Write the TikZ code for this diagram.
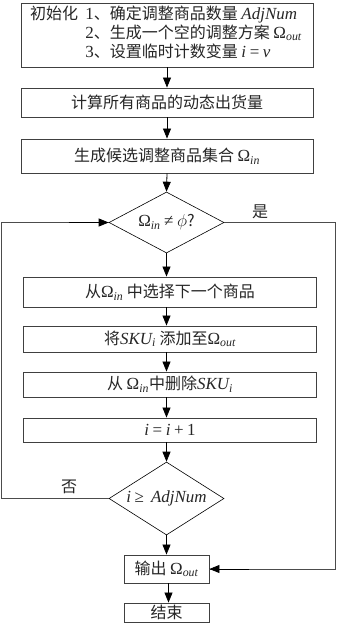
\documentclass[tikz,border=0pt]{standalone}
\usepackage{fontspec}
\setmainfont{Liberation Serif}
\newfontfamily\cjk{Noto Sans CJK SC}
\newfontfamily\lat[Scale=1.06]{Liberation Serif}
\usetikzlibrary{shapes.geometric,arrows.meta}
\newcommand\Om[1]{{\lat Ω\textsubscript{\itshape #1}}}
\newcommand\va[1]{{\lat\itshape #1}}
\begin{document}
\begin{tikzpicture}[x=1pt,y=-1pt,
  every node/.style={font=\cjk\fontsize{16}{19}\selectfont, text=black!85},
  box/.style={draw=black!75, line width=0.9pt, rectangle, inner sep=0pt, fill=white},
  dec/.style={draw=black, line width=0.6pt, diamond, inner sep=0pt, fill=white},
  arr/.style={-{Triangle[length=10pt,width=8pt]}, line width=0.8pt, draw=black},
  lin/.style={line width=0.9pt, draw=black!70}]
\useasboundingbox (0,0) rectangle (337,627);
\node[box, minimum width=292, minimum height=64] (b1) at (167,35) {};
\node (t1) at (166,34.5) {\begin{tabular}{@{}l@{\ \ }l@{}}初始化 & {\lat 1}、确定调整商品数量 \va{AdjNum}\\
 & {\lat 2}、生成一个空的调整方案 \Om{out}\\
 & {\lat 3}、设置临时计数变量 \va{i} {\lat =} \va{v}\end{tabular}};
\node[box, minimum width=292, minimum height=29] (b2) at (167,102.5) {计算所有商品的动态出货量};
\node[box, minimum width=292, minimum height=34] (b3) at (167,156) {生成候选调整商品集合 \Om{in}};
\node[dec, minimum width=115, minimum height=61, aspect=1.9] (d1) at (166.5,222.5) {\Om{in} {\lat ≠} $\phi$?};
\node[box, minimum width=293, minimum height=30] (b4) at (170,292) {从\Om{in} 中选择下一个商品};
\node[box, minimum width=293, minimum height=26] (b5) at (170,339) {将\va{SKU}\textsubscript{\va{i}} 添加至\Om{out}};
\node[box, minimum width=293, minimum height=25] (b6) at (170,384.5) {从 \Om{in}中删除\va{SKU}\textsubscript{\va{i}}};
\node[box, minimum width=293, minimum height=24] (b7) at (170,430) {\va{i} {\lat =} \va{i} {\lat +} {\lat 1}};
\node[dec, minimum width=115, minimum height=73, aspect=1.6] (d2) at (166.5,498.5) {\va{i} {\lat ≥} \ \va{AdjNum}};
\node[box, minimum width=85, minimum height=28] (b8) at (166.5,569) {输出 \Om{out}};
\node[box, minimum width=85, minimum height=19] (b9) at (166.5,612.5) {结束};
\node (yes) at (260,212) {是};
\node (no) at (69,487) {否};
\draw[arr] (b1.south) -- (b2.north);
\draw[arr] (b2.south) -- (b3.north);
\draw[arr] (b3.south) -- (d1.north);
\draw[arr] (d1.south) -- (d1.south |- b4.north);
\draw[arr] (d1.south |- b4.south) -- (d1.south |- b5.north);
\draw[arr] (d1.south |- b5.south) -- (d1.south |- b6.north);
\draw[arr] (d1.south |- b6.south) -- (d1.south |- b7.north);
\draw[arr] (d1.south |- b7.south) -- (d2.north);
\draw[arr] (d2.south) -- (b8.north);
\draw[arr] ([xshift=2pt]b8.south) -- ([xshift=2pt]b9.north);
\draw[lin] (d2.west) -- ++(-107,0) |- (d1.west);
\draw[arr] ([xshift=-40pt]d1.west) -- (d1.west);
\draw[lin] (d1.east) -- ++(111,0) |- (b8.east);
\draw[arr] ([xshift=40pt]b8.east) -- (b8.east);
\end{tikzpicture}
\end{document}
